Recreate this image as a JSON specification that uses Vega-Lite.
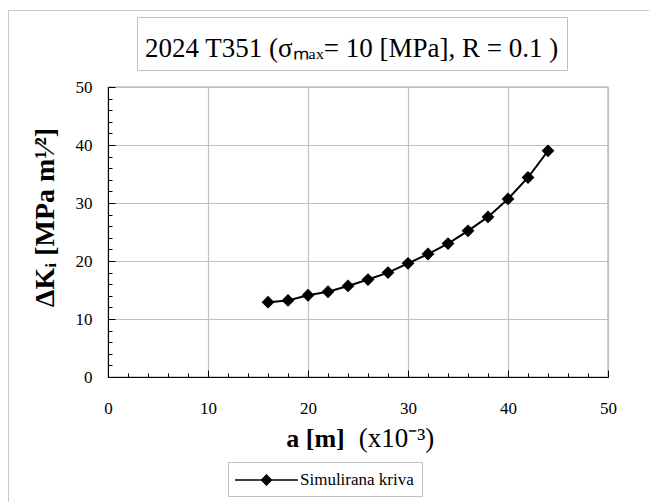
{
  "$schema": "https://vega.github.io/schema/vega-lite/v6.json",
  "width": 500,
  "height": 290,
  "autosize": {"type": "none"},
  "padding": {"left": 108, "top": 87, "right": 41, "bottom": 125},
  "background": "white",
  "config": {
    "view": {"stroke": "#c0c0c0", "strokeWidth": 1.5},
    "axis": {"labelFont": "Liberation Serif, Times New Roman, serif", "labelFontSize": 17, "labelColor": "black", "titleFont": "Liberation Serif, Times New Roman, serif", "titleColor": "black", "domainColor": "black", "tickColor": "black", "gridColor": "#c0c0c0", "gridWidth": 1.2, "labelOverlap": false}
  },
  "data": {"values": [
    {"a": 16, "k": 12.9, "s": "Simulirana kriva"},
    {"a": 18, "k": 13.2, "s": "Simulirana kriva"},
    {"a": 20, "k": 14.1, "s": "Simulirana kriva"},
    {"a": 22, "k": 14.7, "s": "Simulirana kriva"},
    {"a": 24, "k": 15.7, "s": "Simulirana kriva"},
    {"a": 26, "k": 16.8, "s": "Simulirana kriva"},
    {"a": 28, "k": 18.0, "s": "Simulirana kriva"},
    {"a": 30, "k": 19.6, "s": "Simulirana kriva"},
    {"a": 32, "k": 21.2, "s": "Simulirana kriva"},
    {"a": 34, "k": 23.0, "s": "Simulirana kriva"},
    {"a": 36, "k": 25.2, "s": "Simulirana kriva"},
    {"a": 38, "k": 27.6, "s": "Simulirana kriva"},
    {"a": 40, "k": 30.7, "s": "Simulirana kriva"},
    {"a": 42, "k": 34.4, "s": "Simulirana kriva"},
    {"a": 44, "k": 39.0, "s": "Simulirana kriva"}
  ]},
  "layer": [
    {
      "mark": {"type": "line", "color": "black", "strokeWidth": 2, "point": {"shape": "diamond", "size": 165, "filled": true, "color": "black"}},
      "encoding": {
        "x": {"field": "a", "type": "quantitative", "scale": {"domain": [0, 50], "nice": false},
          "axis": {"values": [0,2,4,6,8,10,12,14,16,18,20,22,24,26,28,30,32,34,36,38,40,42,44,46,48,50],
            "labelExpr": "datum.value % 10 == 0 ? datum.label : ''",
            "gridOpacity": {"condition": {"test": "datum.value % 10 == 0", "value": 1}, "value": 0},
            "tickSize": {"condition": {"test": "datum.value % 10 == 0", "value": -7}, "value": -4},
            "labelPadding": 30, "labelFlush": false,
            "title": "a [m]", "titleFontSize": 26, "titleFontWeight": "bold", "titleX": 207, "titleY": 69, "titleBaseline": "alphabetic"}},
        "y": {"field": "k", "type": "quantitative", "scale": {"domain": [0, 50], "nice": false},
          "axis": {"values": [0,2,4,6,8,10,12,14,16,18,20,22,24,26,28,30,32,34,36,38,40,42,44,46,48,50],
            "labelExpr": "datum.value % 10 == 0 ? datum.label : ''",
            "gridOpacity": {"condition": {"test": "datum.value % 10 == 0", "value": 1}, "value": 0},
            "tickSize": {"condition": {"test": "datum.value % 10 == 0", "value": -7}, "value": -4},
            "labelPadding": 23, "labelFlush": false,
            "title": "ΔKᵢ  [MPa m¹⁄²]", "titleFontSize": 28, "titleFontWeight": "bold", "titleX": -63, "titleY": 130, "titleAngle": 270, "titleAlign": "center", "titleBaseline": "middle"}},
        "color": {"field": "s", "type": "nominal", "scale": {"range": ["black"]},
          "legend": {"title": null, "orient": "none", "legendX": 120, "legendY": 375, "strokeColor": "#c0c0c0", "padding": 8,
            "labelFont": "Liberation Serif, Times New Roman, serif", "labelFontSize": 17, "labelColor": "black", "labelOffset": 44,
            "symbolType": "M-1.1,-0.07H5.2V0.07H-1.1Z M1.45,0L2.05,-0.6L2.65,0L2.05,0.6Z", "symbolSize": 400, "symbolFillColor": "black", "symbolStrokeWidth": 0, "symbolOpacity": 1}}
      }
    },
    {
      "mark": {"type": "point", "opacity": 0},
      "encoding": {
        "x": {"field": "a", "type": "quantitative", "scale": {"domain": [0, 50], "nice": false},
          "axis": {"orient": "bottom", "domain": false, "ticks": false, "labels": false, "grid": false,
            "title": "(x10⁻³)", "titleFontSize": 27, "titleFontWeight": "normal", "titleX": 288, "titleY": 69, "titleBaseline": "alphabetic"}},
        "shape": {"datum": "t", "scale": {"range": ["circle"]},
          "legend": {"title": "2024 T351 (σₘₐₓ= 10 [MPa], R = 0.1 )", "titleFont": "Liberation Serif, Times New Roman, serif", "titleFontSize": 27, "titleFontWeight": "normal", "titleColor": "black", "titleOrient": "bottom", "titlePadding": 1, "titleLimit": 1000,
            "orient": "none", "legendX": 29, "legendY": -70, "strokeColor": "#c0c0c0", "padding": 8,
            "symbolSize": 49, "symbolOpacity": 0, "labelExpr": "''", "labelFontSize": 10}},
        "strokeDash": {"datum": "b",
          "legend": {"title": null, "orient": "none", "legendX": -100, "legendY": -77, "strokeColor": "#c8c8c8", "padding": 0,
            "symbolSize": 490000, "symbolOpacity": 0, "labelExpr": "''", "labelFontSize": 10}}
      }
    }
  ],
  "resolve": {"axis": {"x": "independent"}}
}
